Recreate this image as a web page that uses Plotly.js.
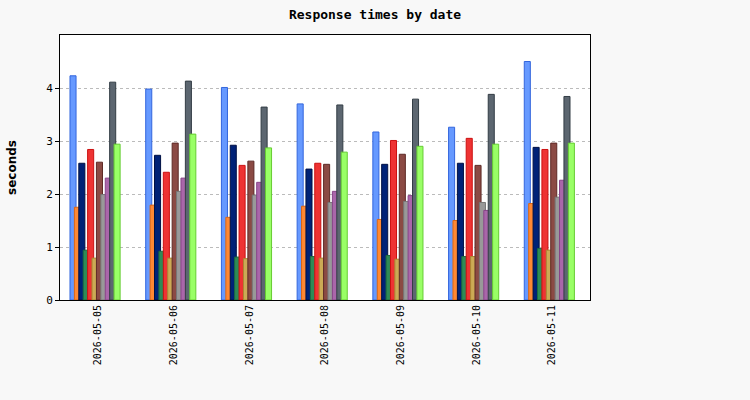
<!DOCTYPE html>
<html>
<head>
<meta charset="utf-8">
<script src="https://cdn.plot.ly/plotly-3.0.1.min.js"></script>
<style>
  html, body { margin: 0; padding: 0; background: #f8f8f8; }
  #chart { width: 750px; height: 400px; }
</style>
</head>
<body>
<div id="chart"></div>
<script>
// dates on the x axis
const dates = ['2026-05-05', '2026-05-06', '2026-05-07', '2026-05-08', '2026-05-09', '2026-05-10', '2026-05-11'];

// one array per series (seconds)
const s1  = [4.23, 3.98, 4.01, 3.70, 3.17, 3.26, 4.50];
const s2  = [1.75, 1.79, 1.56, 1.77, 1.52, 1.50, 1.82];
const s3  = [2.58, 2.73, 2.92, 2.47, 2.56, 2.58, 2.88];
const s4  = [0.94, 0.92, 0.81, 0.82, 0.84, 0.82, 0.97];
const s5  = [2.84, 2.41, 2.54, 2.58, 3.01, 3.05, 2.84];
const s6  = [0.79, 0.79, 0.78, 0.79, 0.77, 0.82, 0.94];
const s7  = [2.60, 2.96, 2.62, 2.56, 2.75, 2.54, 2.96];
const s8  = [1.99, 2.05, 1.98, 1.84, 1.86, 1.84, 1.94];
const s9  = [2.30, 2.30, 2.22, 2.05, 1.97, 1.69, 2.26];
const s10 = [4.11, 4.13, 3.64, 3.68, 3.79, 3.88, 3.84];
const s11 = [2.94, 3.13, 2.87, 2.79, 2.90, 2.94, 2.96];

const series = [s1, s2, s3, s4, s5, s6, s7, s8, s9, s10, s11];

const fills = ['#6699ff', '#ff8833', '#002277', '#2e8b57', '#ee3333', '#ccaa55',
               '#8b4a44', '#999999', '#aa66aa', '#5c6670', '#99ff66'];
const edges = ['#3366dd', '#dd6611', '#001144', '#1c6b3f', '#cc1111', '#aa8833',
               '#5e2a26', '#777777', '#884488', '#333d45', '#66cc33'];

// bars overlap: each one narrower step than width
const barWidth = 0.08;
const step = 0.0582;
const firstOffset = -0.368;

const traces = series.map((vals, i) => ({
    type: 'bar',
    x: dates,
    y: vals,
    width: barWidth,
    offset: firstOffset + i * step,
    marker: {
        color: fills[i],
        line: { color: edges[i], width: 1 }
    },
    hoverinfo: 'y'
}));

const mono = 'DejaVu Sans Mono, monospace';

const layout = {
    width: 750,
    height: 400,
    barmode: 'overlay',
    showlegend: false,
    paper_bgcolor: '#f8f8f8',
    plot_bgcolor: 'white',
    margin: { l: 60, r: 160, t: 35, b: 100 },
    title: {
        text: '<b>Response times by date</b>',
        font: { family: mono, size: 13, color: 'black' },
        x: 0.5,
        xanchor: 'center',
        y: 0.963,
        yanchor: 'middle'
    },
    xaxis: {
        type: 'category',
        range: [-0.5, 6.5],
        tickangle: -90,
        tickfont: { family: mono, size: 10, color: 'black' },
        ticks: '',
        showline: true,
        linecolor: 'black',
        linewidth: 1,
        mirror: true,
        showgrid: false,
        automargin: false
    },
    yaxis: {
        range: [0, 5],
        tickvals: [0, 1, 2, 3, 4],
        ticks: 'outside',
        ticklen: 4,
        tickcolor: 'black',
        tickfont: { family: mono, size: 11, color: 'black' },
        showline: true,
        linecolor: 'black',
        linewidth: 1,
        mirror: true,
        showgrid: true,
        gridcolor: '#bbbbbb',
        griddash: '3px,3px',
        zeroline: false,
        automargin: false,
        title: {
            text: '<b>seconds</b>',
            font: { family: 'DejaVu Sans, sans-serif', size: 12, color: 'black' },
            standoff: 26
        }
    }
};

Plotly.newPlot('chart', traces, layout, { displayModeBar: false, staticPlot: true });
</script>
</body>
</html>
